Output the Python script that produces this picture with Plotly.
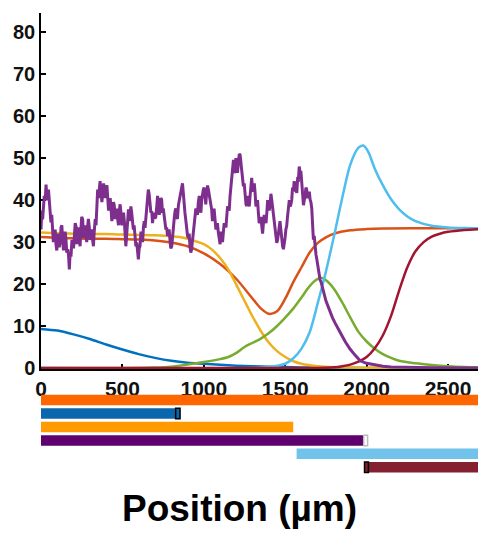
import plotly.graph_objects as go

# ---------------- data ----------------
blue_x = [0, 100, 200, 300, 400, 500, 600, 700, 800, 900, 1000, 1100, 1200, 1300, 1400, 1500, 1600, 1700, 1800, 2000, 2200, 2700]
blue_y = [9.3, 8.9, 8.0, 6.9, 5.6, 4.4, 3.3, 2.4, 1.7, 1.25, 1.0, 0.75, 0.55, 0.4, 0.3, 0.2, 0.12, 0.07, 0.04, 0.01, 0, 0]

red_x = [0, 100, 200, 300, 400, 500, 600, 700, 800, 900, 1000, 1100, 1200, 1300, 1350, 1400, 1450, 1500, 1550, 1600, 1650, 1700, 1750, 1800, 1900, 2000, 2100, 2300, 2700]
red_y = [31.2, 31.0, 30.9, 30.8, 30.8, 30.7, 30.6, 30.4, 29.9, 29.0, 27.3, 24.8, 21.2, 16.5, 14.2, 12.9, 13.5, 16.5, 20.5, 24.0, 27.5, 29.8, 31.1, 32.0, 32.8, 33.1, 33.25, 33.3, 33.3]

yel_x = [0, 100, 200, 300, 400, 500, 600, 700, 800, 850, 900, 950, 1000, 1050, 1100, 1150, 1200, 1250, 1300, 1350, 1400, 1450, 1500, 1550, 1600, 1700, 1800, 2000, 2700]
yel_y = [32.3, 32.1, 32.0, 31.9, 31.9, 31.8, 31.7, 31.6, 31.4, 31.2, 30.8, 30.2, 29.5, 28.2, 26.2, 23.5, 19.8, 16.0, 12.2, 8.8, 6.0, 4.0, 2.6, 1.6, 1.0, 0.4, 0.15, 0.03, 0]

grn_x = [0, 500, 700, 800, 900, 1000, 1100, 1150, 1200, 1250, 1300, 1350, 1400, 1450, 1500, 1550, 1600, 1650, 1700, 1730, 1760, 1800, 1850, 1900, 1950, 2000, 2050, 2100, 2150, 2200, 2300, 2400, 2500, 2600, 2700]
grn_y = [0, 0, 0.1, 0.3, 0.8, 1.4, 2.1, 2.6, 3.6, 5.0, 6.0, 7.0, 8.3, 10.0, 12.0, 14.2, 16.8, 19.5, 21.2, 21.4, 20.6, 18.8, 15.6, 12.0, 8.6, 6.3, 4.6, 3.3, 2.4, 1.7, 1.1, 0.7, 0.4, 0.2, 0.1]

lb_x = [0, 1300, 1400, 1450, 1500, 1550, 1600, 1650, 1700, 1750, 1800, 1850, 1900, 1950, 1980, 2010, 2050, 2100, 2150, 2200, 2250, 2300, 2400, 2500, 2600, 2700]
lb_y = [0, 0, 0.2, 0.5, 1.0, 2.3, 4.6, 8.5, 15.5, 23.0, 31.5, 40.5, 48.5, 52.5, 53.0, 51.5, 47.5, 43.5, 40.2, 37.8, 36.1, 35.0, 33.9, 33.5, 33.35, 33.3]

dr_x = [0, 1700, 1800, 1850, 1900, 1950, 2000, 2050, 2100, 2150, 2200, 2250, 2300, 2350, 2400, 2450, 2500, 2600, 2700]
dr_y = [0, 0, 0.15, 0.4, 0.8, 1.5, 2.6, 4.7, 7.8, 12.4, 18.5, 24.0, 27.8, 30.0, 31.3, 32.0, 32.45, 32.9, 33.1]

# noisy purple trace: (position, value)
pu_pts = [
    (0, 33.0), (5, 37.5), (10, 35.4), (15, 38.5), (20, 41.0), (26, 40.0), (31, 43.7), (35, 41.0), (40, 40.0), (46, 42.5),
    (51, 39.4), (56, 35.0), (61, 34.7), (66, 36.5), (70, 33.0), (76, 30.0), (82, 31.4), (87, 33.0), (92, 29.5), (97, 28.0),
    (102, 30.5), (107, 32.0), (112, 28.8), (118, 30.0), (123, 33.5), (128, 34.0), (133, 30.5), (138, 28.0), (143, 29.9), (148, 32.5),
    (153, 31.0), (158, 27.5), (164, 28.3), (169, 27.0), (174, 23.5), (179, 27.5), (184, 26.5), (190, 30.5), (195, 29.9), (200, 28.5),
    (205, 31.5), (210, 34.5), (215, 33.8), (220, 29.5), (225, 31.0), (230, 33.5), (235, 30.9), (240, 29.0), (245, 33.0), (250, 36.0),
    (256, 35.4), (261, 31.0), (266, 32.5), (271, 34.0), (276, 31.6), (281, 30.0), (286, 33.5), (291, 35.5), (297, 33.4), (302, 30.5),
    (307, 31.5), (312, 33.0), (317, 30.5), (322, 29.0), (327, 32.5), (333, 35.5), (338, 34.0), (343, 38.0), (348, 42.5), (353, 40.5),
    (358, 43.7), (363, 44.5), (368, 42.0), (374, 39.5), (379, 41.4), (384, 44.0), (389, 42.5), (394, 40.5), (399, 43.0), (405, 43.5),
    (410, 40.4), (415, 37.5), (420, 39.0), (425, 40.5), (430, 38.0), (435, 35.0), (440, 36.5), (445, 39.5), (450, 38.8), (455, 35.5),
    (460, 36.5), (466, 38.0), (471, 35.4), (476, 34.0), (481, 37.5), (486, 39.0), (491, 37.0), (496, 34.0), (501, 35.5), (507, 37.0),
    (512, 34.9), (516, 32.0), (521, 29.0), (525, 31.0), (530, 33.0), (534, 36.0), (537, 37.8), (542, 35.0), (547, 36.5), (552, 38.5),
    (557, 37.0), (562, 34.5), (567, 33.0), (572, 34.0), (578, 31.5), (583, 29.0), (588, 29.9), (593, 27.5), (598, 25.9), (603, 28.5),
    (608, 29.0), (614, 32.5), (619, 31.4), (624, 30.0), (629, 33.5), (634, 35.0), (639, 33.4), (644, 36.0), (649, 38.0), (654, 40.0),
    (659, 42.5), (664, 41.5), (670, 39.5), (675, 37.0), (680, 37.3), (685, 34.5), (690, 36.5), (695, 37.0), (700, 35.6), (705, 36.0),
    (710, 38.0), (716, 41.0), (721, 39.4), (726, 36.5), (731, 37.5), (736, 40.5), (741, 40.1), (746, 37.0), (751, 38.0), (756, 36.5),
    (762, 35.6), (767, 33.0), (772, 33.5), (777, 31.5), (782, 31.8), (787, 33.0), (792, 30.5), (797, 28.5), (803, 29.0), (808, 32.0),
    (813, 33.0), (818, 35.5), (823, 37.3), (828, 38.0), (833, 36.0), (838, 35.5), (844, 38.8), (849, 40.0), (854, 41.0), (859, 41.5),
    (864, 43.7), (869, 44.0), (874, 41.7), (879, 38.5), (884, 37.0), (890, 35.0), (895, 33.0), (900, 31.5), (905, 31.0), (910, 32.0),
    (915, 29.0), (920, 27.5), (925, 28.3), (930, 30.5), (935, 31.5), (940, 34.0), (946, 35.6), (951, 38.0), (956, 37.0), (961, 36.5),
    (966, 39.4), (972, 41.0), (977, 38.5), (982, 37.0), (987, 40.1), (992, 41.5), (997, 42.5), (1002, 43.0), (1007, 40.0), (1012, 39.0),
    (1018, 42.0), (1023, 43.5), (1028, 42.5), (1033, 41.5), (1038, 40.0), (1043, 39.5), (1048, 37.8), (1053, 35.0), (1058, 36.5), (1063, 38.0),
    (1069, 35.4), (1074, 33.0), (1079, 33.5), (1084, 34.5), (1089, 32.3), (1095, 30.0), (1100, 29.5), (1105, 32.5), (1110, 31.0), (1115, 30.0),
    (1120, 32.3), (1125, 34.5), (1130, 34.0), (1136, 33.5), (1141, 36.2), (1146, 38.5), (1151, 38.0), (1156, 37.5), (1161, 40.9), (1166, 43.0),
    (1171, 45.7), (1176, 48.5), (1182, 49.6), (1187, 46.5), (1192, 47.0), (1197, 50.0), (1202, 48.0), (1207, 46.5), (1212, 49.0), (1218, 51.0),
    (1223, 50.8), (1228, 48.5), (1233, 47.3), (1238, 44.5), (1243, 43.3), (1248, 44.0), (1254, 41.0), (1259, 39.0), (1264, 38.6), (1269, 41.0),
    (1274, 39.5), (1279, 38.5), (1284, 40.9), (1289, 44.0), (1294, 45.3), (1300, 42.0), (1305, 43.0), (1310, 44.0), (1315, 41.7), (1320, 38.5),
    (1325, 39.0), (1330, 40.0), (1335, 37.0), (1340, 34.5), (1346, 35.0), (1351, 36.0), (1356, 33.8), (1361, 32.0), (1366, 34.5), (1371, 36.5),
    (1376, 35.4), (1382, 34.5), (1387, 37.0), (1392, 40.0), (1397, 38.6), (1402, 37.5), (1407, 39.0), (1412, 41.5), (1417, 40.1), (1422, 38.5),
    (1428, 37.0), (1433, 35.0), (1438, 33.8), (1443, 31.0), (1448, 29.8), (1453, 30.5), (1458, 32.0), (1463, 34.5), (1468, 35.0), (1473, 33.0),
    (1478, 30.6), (1484, 29.0), (1489, 28.3), (1494, 29.5), (1499, 31.0), (1504, 33.0), (1509, 33.8), (1514, 36.0), (1519, 37.8), (1525, 40.0),
    (1530, 38.5), (1535, 39.0), (1540, 40.1), (1545, 43.0), (1550, 42.0), (1555, 44.5), (1560, 43.3), (1566, 42.0), (1571, 41.7), (1576, 45.0),
    (1581, 44.9), (1586, 48.0), (1591, 46.5), (1596, 47.0), (1601, 44.5), (1607, 42.0), (1612, 38.8), (1617, 40.0), (1622, 41.0), (1627, 43.0),
    (1632, 42.5), (1637, 40.5), (1642, 41.0), (1648, 42.0), (1653, 40.1), (1658, 39.5), (1663, 38.0), (1668, 33.0), (1673, 30.6), (1678, 31.5),
    (1683, 29.0), (1689, 27.0), (1694, 25.9), (1699, 24.5), (1704, 22.8), (1709, 22.0), (1714, 21.0), (1720, 20.5), (1726, 19.5), (1738, 17.8),
    (1750, 16.0), (1762, 14.8), (1775, 13.3), (1790, 12.0), (1805, 10.8), (1820, 9.6), (1837, 8.5), (1868, 6.3), (1898, 4.5), (1930, 3.0),
    (1960, 1.7), (2000, 1.1), (2050, 0.7), (2100, 0.4), (2150, 0.25), (2250, 0.1), (2400, 0.03), (2700, 0.0),
]
pu_x = [p[0] for p in pu_pts]
pu_y = [p[1] for p in pu_pts]

# coverage bars (rows top to bottom)
bar_rows = [0, 1, 2, 3, 4, 5]
bar_start = [0, 0, 0, 0, 1570, 1987]
bar_end = [2700, 854, 1549, 2006, 2700, 2700]
bar_colors = ["#FF6600", "#0A67AE", "#FF9A00", "#5E006E", "#72C3EB", "#852030"]

# small end boxes on some bars
box_rows = [1, 3, 5]
box_start = [827, 1982, 1987]
box_end = [854, 2006, 2011]
box_fill = ["#0A67AE", "#FFFFFF", "#852030"]
box_line = ["#000000", "#BBBBBB", "#000000"]

x_ticks = [0, 500, 1000, 1500, 2000, 2500]
y_ticks = [0, 10, 20, 30, 40, 50, 60, 70, 80]

# ---------------- figure ----------------
fig = go.Figure()

lines = [
    (blue_x, blue_y, "#0072BD"),
    (red_x, red_y, "#D95319"),
    (yel_x, yel_y, "#EDB120"),
    (grn_x, grn_y, "#77AC30"),
    (lb_x, lb_y, "#4DBEEE"),
    (dr_x, dr_y, "#A2142F"),
]
for xs, ys, c in lines:
    fig.add_trace(go.Scatter(x=xs, y=ys, mode="lines", line=dict(color=c, width=2.5, shape="spline", smoothing=0.8),
                             xaxis="x", yaxis="y", showlegend=False, hoverinfo="skip"))
fig.add_trace(go.Scatter(x=pu_x, y=pu_y, mode="lines", line=dict(color="#7E2F8E", width=3),
                         xaxis="x", yaxis="y", showlegend=False, hoverinfo="skip"))

fig.add_trace(go.Bar(
    y=bar_rows, base=bar_start, x=[e - s for s, e in zip(bar_start, bar_end)],
    orientation="h", width=0.78, marker=dict(color=bar_colors, line=dict(width=0)),
    xaxis="x2", yaxis="y2", showlegend=False, hoverinfo="skip"))
fig.add_trace(go.Bar(
    y=box_rows, base=box_start, x=[e - s for s, e in zip(box_start, box_end)],
    orientation="h", width=0.78, marker=dict(color=box_fill, line=dict(color=box_line, width=1.5)),
    xaxis="x2", yaxis="y2", showlegend=False, hoverinfo="skip"))

tick_font = dict(family="Liberation Sans, Arial, sans-serif", size=20, color="#111111", weight="bold")
XR = [0, 2684]
YR = [-0.25, 84.6]

fig.update_layout(
    width=478, height=536,
    margin=dict(l=41, r=0, t=13, b=62, autoexpand=False),
    paper_bgcolor="white", plot_bgcolor="white",
    barmode="overlay",
    xaxis=dict(domain=[0, 1], anchor="y", range=XR, tickvals=x_ticks, ticks="inside", ticklen=5, tickwidth=1.5,
               tickcolor="black", showline=True, linecolor="black", linewidth=1.5, showgrid=False, zeroline=False,
               tickfont=dict(tick_font, size=21), layer="below traces", automargin=False),
    yaxis=dict(domain=[0.2278, 1], anchor="x", range=YR, tickvals=y_ticks, ticks="inside", ticklen=5,
               tickwidth=1.5, tickcolor="black", showline=True, linecolor="black", linewidth=1.5, showgrid=False,
               zeroline=False, tickfont=tick_font, layer="below traces", automargin=False),
    yaxis3=dict(overlaying="y", side="right", anchor="x", range=YR, tickvals=y_ticks, ticks="inside",
                ticklen=5, tickwidth=1.5, tickcolor="black", showline=False, showticklabels=False, showgrid=False,
                zeroline=False, automargin=False),
    xaxis2=dict(domain=[0, 1], anchor="y2", range=XR, visible=False),
    yaxis2=dict(domain=[0, 0.175], anchor="x2", range=[5.5, -0.5], visible=False),
    annotations=[dict(text="Position (µm)", xref="paper", yref="paper", x=0.455, y=-0.074,
                      xanchor="center", yanchor="middle", showarrow=False,
                      font=dict(family="Liberation Sans, Arial, sans-serif", size=37, color="black", weight="bold"))],
)

fig.write_html("out.html", config={"displayModeBar": False},
               post_script="document.body.style.margin='0';document.body.style.overflow='hidden';")
